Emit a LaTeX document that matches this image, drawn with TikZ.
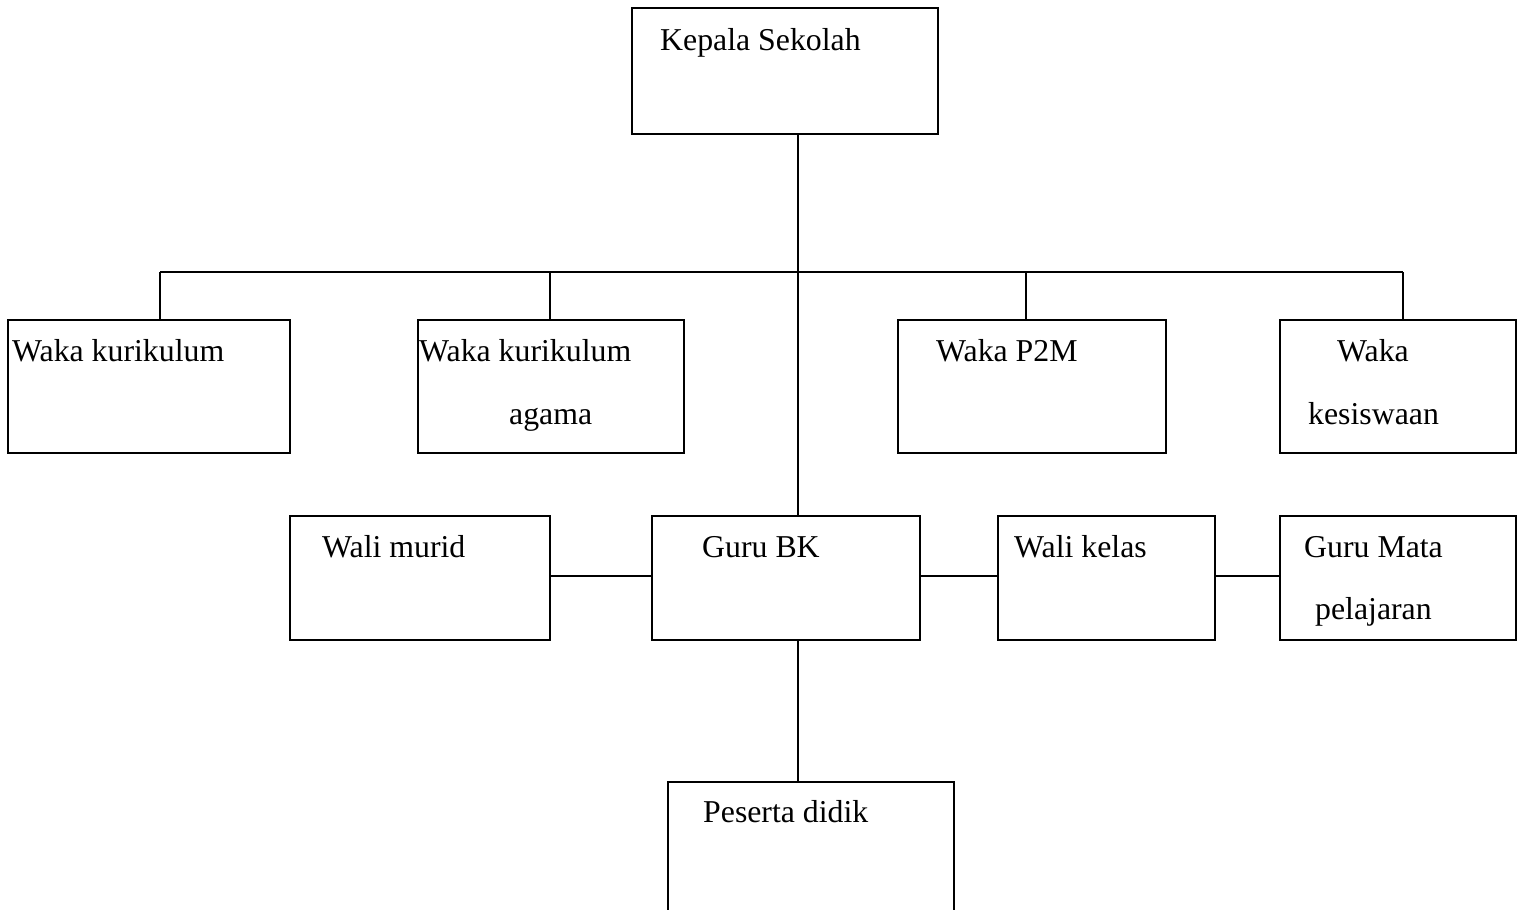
\documentclass[tikz,border=0pt]{standalone}
\usepackage{fontspec}
\setmainfont{Liberation Serif}
\begin{document}
\begin{tikzpicture}[x=1pt,y=-1pt,
  box/.style={draw,line width=1.5pt,rectangle,inner sep=0pt},
  lbl/.style={anchor=base west,inner sep=0pt,font=\fontsize{31.8}{36}\selectfont},
  link/.style={line width=1.5pt}]
\clip (0,0) rectangle (1518,910);
% boxes
\node[box,minimum width=306pt,minimum height=126pt] (ks) at (785,71) {};
\node[box,minimum width=282pt,minimum height=133pt] (wk) at (149,386.5) {};
\node[box,minimum width=266pt,minimum height=133pt] (wka) at (551,386.5) {};
\node[box,minimum width=268pt,minimum height=133pt] (wp) at (1032,386.5) {};
\node[box,minimum width=236pt,minimum height=133pt] (wks) at (1398,386.5) {};
\node[box,minimum width=260pt,minimum height=124pt] (wm) at (420,578) {};
\node[box,minimum width=268pt,minimum height=124pt] (bk) at (786,578) {};
\node[box,minimum width=217pt,minimum height=124pt] (wkl) at (1106.5,578) {};
\node[box,minimum width=236pt,minimum height=124pt] (gm) at (1398,578) {};
\node[box,minimum width=286pt,minimum height=160pt] (pd) at (811,862) {};
% labels
\node[lbl] (t1) at (660,50) {Kepala Sekolah};
\node[lbl] (t2) at (12,361) {Waka kurikulum};
\node[lbl] (t3) at (419,361) {Waka kurikulum};
\node[lbl] (t3b) at (509,424) {agama};
\node[lbl] (t4) at (936,361) {Waka P2M};
\node[lbl] (t5) at (1337,361) {Waka};
\node[lbl] (t5b) at (1308,424) {kesiswaan};
\node[lbl] (t6) at (322,557) {Wali murid};
\node[lbl] (t7) at (702,557) {Guru BK};
\node[lbl] (t8) at (1014,557) {Wali kelas};
\node[lbl] (t9) at (1304,557) {Guru Mata};
\node[lbl] (t9b) at (1315,619) {pelajaran};
\node[lbl] (t10) at (703,822) {Peserta didik};
% connectors
\coordinate (bl) at (160,272);
\coordinate (br) at (1403,272);
\draw[link] (bl) -- (br);
\draw[link] (ks.south -| 798,0) -- (bk.north -| 798,0);
\draw[link] (bl) -- (wk.north -| bl);
\draw[link] (550,272) -- (wka.north -| 550,0);
\draw[link] (1026,272) -- (wp.north -| 1026,0);
\draw[link] (br) -- (wks.north -| br);
\draw[link] ([yshift=2pt]wm.east) -- ([yshift=2pt]bk.west);
\draw[link] ([yshift=2pt]bk.east) -- ([yshift=2pt]wkl.west);
\draw[link] ([yshift=2pt]wkl.east) -- ([yshift=2pt]gm.west);
\draw[link] (bk.south -| 798,0) -- (pd.north -| 798,0);
\end{tikzpicture}
\end{document}
